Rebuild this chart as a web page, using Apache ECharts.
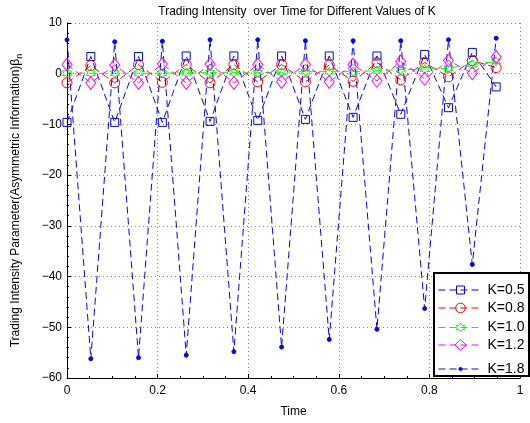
<!DOCTYPE html>
<html>
<head>
<meta charset="utf-8">
<script src="https://cdn.jsdelivr.net/npm/echarts@6/dist/echarts.min.js"></script>
<style>
  html, body { margin: 0; padding: 0; background: #fff; }
  #chart { width: 530px; height: 423px; }
</style>
</head>
<body>
<div id="chart"></div>
<script>
// sample times (19 steps over [0, 1))
const times = [0, 0.0526, 0.1053, 0.1579, 0.2105, 0.2632, 0.3158, 0.3684, 0.4211, 0.4737,
  0.5263, 0.5789, 0.6316, 0.6842, 0.7368, 0.7895, 0.8421, 0.8947, 0.9474]

const k05 = [-9.6, 3.4, -9.6, 3.4, -9.6, 3.5, -9.4, 3.5, -9.2, 3.5,
  -9.0, 3.5, -8.6, 3.5, -8.0, 3.8, -6.7, 4.2, -2.6]
const k08 = [-1.8, 1.6, -1.8, 1.8, -1.7, 1.8, -1.8, 1.8, -1.6, 1.8,
  -1.6, 1.7, -1.5, 2.2, -1.2, 2.2, -0.6, 2.6, 1.2]
const k10 = [0.1, 0.1, 0.1, 0.1, 0.1, 0.2, 0.2, 0.2, 0.2, 0.3,
  0.4, 0.4, 0.4, 0.6, 0.8, 0.9, 1.1, 1.8, 2.4]
const k12 = [1.8, -1.8, 1.7, -1.8, 1.9, -1.8, 1.9, -1.8, 1.8, -1.6,
  1.8, -1.6, 1.8, -1.4, 2.4, -1.0, 2.6, 0.1, 3.3]
const k18 = [6.7, -56.2, 6.3, -56.0, 6.4, -55.5, 6.7, -54.8, 6.7, -53.9,
  6.5, -52.4, 6.5, -50.4, 6.5, -46.3, 6.7, -37.6, 7.0]

const seriesNames = ['K=0.5', 'K=0.8', 'K=1.0', 'K=1.2', 'K=1.8']
const xTicks = [0, 0.2, 0.4, 0.6, 0.8, 1]

const hexagram = 'path://M0,-10 L2.89,-5 L8.66,-5 L5.77,0 L8.66,5 L2.89,5 L0,10 L-2.89,5 L-8.66,5 L-5.77,0 L-8.66,-5 L-2.89,-5 Z'
const fontFamily = '"Liberation Sans", Arial, sans-serif'
const minus = v => String(v).replace('-', '\u2212')

// legend marker size = 0.8 * itemHeight, so one legend per entry
const legendItemHeights = [10, 12, 11, 14, 4]

function lineSeries(name, values, color, symbol, size, filled) {
  return {
    name: name,
    type: 'line',
    data: values.map((v, i) => [times[i], v]),
    symbol: symbol,
    symbolSize: size,
    showAllSymbol: true,
    animation: false,
    lineStyle: { color: color, width: 1, type: [7, 4] },
    itemStyle: {
      color: filled ? color : 'rgba(255,255,255,0)',
      borderColor: color,
      borderWidth: 1
    },
    emphasis: { disabled: true }
  }
}

const legends = seriesNames.map((name, i) => ({
  orient: 'vertical',
  left: 438,
  top: 288 + 19 * i - legendItemHeights[i] / 2,
  padding: 0,
  itemWidth: 44,
  itemHeight: legendItemHeights[i],
  selectedMode: false,
  lineStyle: { width: 1 },
  itemStyle: { borderWidth: 1 },
  textStyle: { fontSize: 14, color: '#000', fontFamily: fontFamily },
  data: [name]
}))

const chart = echarts.init(document.getElementById('chart'))
chart.setOption({
  animation: false,
  textStyle: { fontFamily: fontFamily },
  title: {
    text: 'Trading Intensity  over Time for Different Values of K',
    left: 292,
    textAlign: 'center',
    top: 1,
    textStyle: { fontSize: 12, fontWeight: 'normal', color: '#000', fontFamily: fontFamily }
  },
  grid: { left: 65, right: 10, top: 23, bottom: 43 },
  graphic: [{
    type: 'rect',
    z: 3,
    shape: { x: 434, y: 273, width: 95, height: 103 },
    style: { fill: '#fff', stroke: '#000', lineWidth: 2 }
  }],
  legend: legends,
  xAxis: {
    type: 'value',
    min: 0,
    max: 1,
    interval: 0.2,
    name: 'Time',
    nameLocation: 'middle',
    nameGap: 28,
    nameTextStyle: { fontSize: 12, color: '#000' },
    axisLine: { onZero: false, lineStyle: { color: '#000', width: 1 } },
    axisTick: { inside: true, length: 4, lineStyle: { color: '#000' } },
    minorTick: { show: true, splitNumber: 4, length: 2, lineStyle: { color: '#000' } },
    axisLabel: { fontSize: 12, color: '#000', margin: 7, formatter: v => xTicks.includes(v) ? String(v) : '' },
    splitLine: { show: true, lineStyle: { color: '#888', width: 1, type: [1, 3] } }
  },
  yAxis: {
    type: 'value',
    min: -60,
    max: 10,
    interval: 10,
    name: 'Trading Intensity Parameter(Asymmetric Information)β{n|n}',
    nameLocation: 'middle',
    nameGap: 43,
    nameTextStyle: {
      fontSize: 12,
      color: '#000',
      lineHeight: 16,
      rich: { n: { fontSize: 9, lineHeight: 8, verticalAlign: 'bottom', color: '#000' } }
    },
    axisLine: { show: true, onZero: false, lineStyle: { color: '#000', width: 1 } },
    axisTick: { show: true, inside: true, length: 4, lineStyle: { color: '#000' } },
    minorTick: { show: true, splitNumber: 5, length: 2, lineStyle: { color: '#000' } },
    axisLabel: { fontSize: 12, color: '#000', margin: 5, formatter: minus },
    splitLine: { show: true, lineStyle: { color: '#888', width: 1, type: [1, 3] } }
  },
  series: [
    lineSeries('K=0.5', k05, '#0000ff', 'rect', 8, false),
    lineSeries('K=0.8', k08, '#ff0000', 'circle', 10, false),
    lineSeries('K=1.0', k10, '#00ff00', hexagram, 9, false),
    lineSeries('K=1.2', k12, '#ff00ff', 'diamond', [10, 13], false),
    lineSeries('K=1.8', k18, '#0000ff', 'circle', 4, true)
  ]
})
</script>
</body>
</html>
